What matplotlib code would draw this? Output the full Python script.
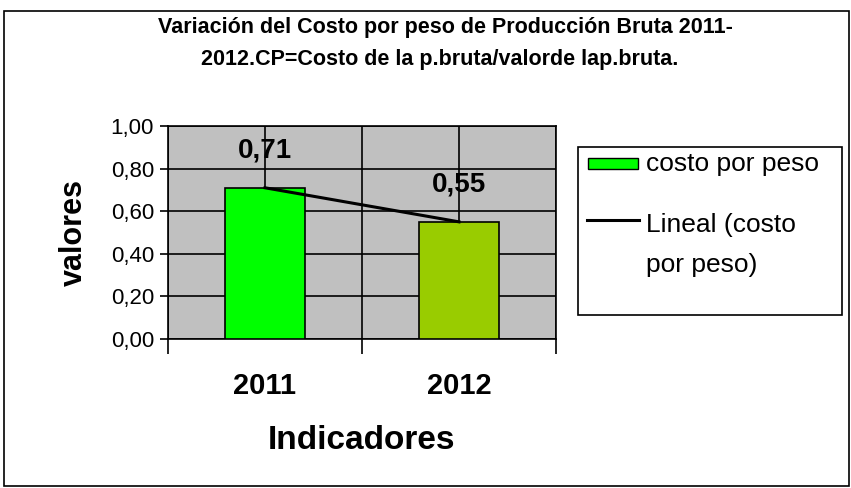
import matplotlib
matplotlib.use("Agg")
import matplotlib.pyplot as plt
import numpy as np
from matplotlib.patches import Rectangle
from matplotlib.lines import Line2D

categories = ["2011", "2012"]
values = [0.71, 0.55]
labels = ["0,71", "0,55"]
bar_colors = ["#00FF00", "#99CC00"]
yticks = [0.0, 0.2, 0.4, 0.6, 0.8, 1.0]
ytick_labels = ["0,00", "0,20", "0,40", "0,60", "0,80", "1,00"]
legend_labels = ["costo por peso", "Lineal (costo\npor peso)"]

plt.rcParams['font.family'] = ['Liberation Sans', 'DejaVu Sans']

W, H = 851, 488
def fx(px):
    return px / W
def fy(py):
    return 1 - py / H

fig = plt.figure(figsize=(8.51, 4.88), dpi=100)
fig.patch.set_facecolor("white")
# outer border
fig.add_artist(Rectangle((fx(4), fy(486)), 845 / W, 475 / H, transform=fig.transFigure,
                         fill=False, edgecolor="black", linewidth=1.2))

ax = fig.add_axes([fx(168), fy(339), (556 - 168) / W, (339 - 126) / H])
ax.set_facecolor("#C0C0C0")
x = np.arange(len(categories))
ax.bar(x, values, width=0.41, color=bar_colors, edgecolor="black", linewidth=1.2, zorder=3)
# linear trendline
coef = np.polyfit(x, values, 1)
ax.plot(x, np.polyval(coef, x), color="black", linewidth=2.2, zorder=4)

for xi, v, lab in zip(x, values, labels):
    ax.text(xi, v + 0.175, lab, ha="center", va="center", fontsize=20, fontweight="bold", zorder=5)

ax.set_xlim(-0.5, 1.5)
ax.set_ylim(0, 1.0)
ax.set_yticks(yticks)
ax.set_yticklabels(ytick_labels, fontsize=16)
ax.set_xticks([-0.5, 0.5, 1.5])
ax.set_xticks(x, minor=True)
ax.set_xticklabels([])
ax.set_xticklabels(categories, minor=True, fontsize=21, fontweight="bold")
ax.tick_params(axis="x", which="major", length=11, width=1.2, direction="out")
ax.tick_params(axis="x", which="minor", length=0, pad=24)
ax.tick_params(axis="y", length=6, width=1.2, direction="out", pad=4)
ax.grid(True, axis="y", color="black", linewidth=1.2, zorder=1)
ax.grid(True, axis="x", which="both", color="black", linewidth=1.2, zorder=1)
ax.set_axisbelow(True)
for s in ["left", "bottom", "top", "right"]:
    ax.spines[s].set_color("black")
    ax.spines[s].set_linewidth(1.2)

ax.set_ylabel("valores", fontsize=22, fontweight="bold", labelpad=16)
ax.set_xlabel("Indicadores", fontsize=24, fontweight="bold", labelpad=18)

fig.text(fx(445), fy(28), "Variación del Costo por peso de Producción Bruta 2011-",
         ha="center", va="center", fontsize=15.5, fontweight="bold")
fig.text(fx(440), fy(60), "2012.CP=Costo de la p.bruta/valorde lap.bruta.",
         ha="center", va="center", fontsize=15.5, fontweight="bold")

# legend (drawn in figure coordinates)
fig.add_artist(Rectangle((fx(578), fy(315)), (842 - 578) / W, (315 - 147) / H,
                         transform=fig.transFigure, fill=True, facecolor="white",
                         edgecolor="black", linewidth=1.2))
fig.add_artist(Rectangle((fx(588), fy(169)), (638 - 588) / W, (169 - 158) / H,
                         transform=fig.transFigure, facecolor=bar_colors[0],
                         edgecolor="black", linewidth=1.0))
fig.add_artist(Line2D([fx(587), fx(639)], [fy(220), fy(220)], transform=fig.transFigure,
                      color="black", linewidth=2.2))
fig.text(fx(646), fy(164), legend_labels[0], ha="left", va="center", fontsize=19)
fig.text(fx(646), fy(245), legend_labels[1], ha="left", va="center", fontsize=19,
         linespacing=1.8)

fig.savefig("out.png", dpi=100)
